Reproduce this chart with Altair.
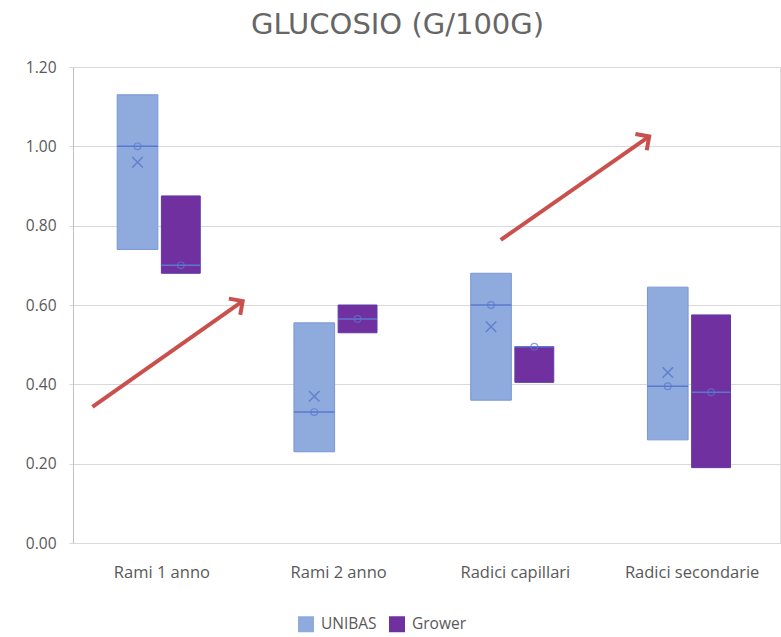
import altair as alt
import pandas as pd

# Glucose content (g/100g) by plant part, two sources
categories = ["Rami 1 anno", "Rami 2 anno", "Radici capillari", "Radici secondarie"]
series = ["UNIBAS", "Grower"]

unibas_min = [0.74, 0.23, 0.36, 0.26]
unibas_max = [1.13, 0.555, 0.68, 0.645]
unibas_median = [1.00, 0.33, 0.60, 0.395]
unibas_mean = [0.96, 0.37, 0.545, 0.43]

grower_min = [0.68, 0.53, 0.405, 0.19]
grower_max = [0.875, 0.60, 0.495, 0.575]
grower_median = [0.70, 0.565, 0.495, 0.38]

# Hand-drawn red arrows (category index, value)
arrow_x = [-0.39, 1.92]
arrow_y = [0.343, 0.764]
arrow_x2 = [0.46, 2.76]
arrow_y2 = [0.61, 1.025]

FILL = {"UNIBAS": "#8FAADC", "Grower": "#7030A0"}
EDGE = {"UNIBAS": "#7A96D6", "Grower": "#5E3AA8"}
OFFSET = {"UNIBAS": (-0.25, -0.02), "Grower": (0.0, 0.22)}

rows = []
for i, cat in enumerate(categories):
    for s, lo, hi, med, mean in (
        ("UNIBAS", unibas_min[i], unibas_max[i], unibas_median[i], unibas_mean[i]),
        ("Grower", grower_min[i], grower_max[i], grower_median[i], None),
    ):
        a, b = OFFSET[s]
        rows.append({
            "category": cat, "series": s, "idx": i,
            "x0": i + a, "x1": i + b, "xc": i + (a + b) / 2,
            "lo": lo, "hi": hi, "median": med, "mean": mean,
        })
df = pd.DataFrame(rows)
arrows = pd.DataFrame({"x": arrow_x, "y": arrow_y, "x2": arrow_x2, "y2": arrow_y2})

label_expr = "[" + ",".join(f"'{c}'" for c in categories) + "][datum.value]"

xscale = alt.Scale(domain=[-0.5, 3.5], nice=False, zero=False)
yscale = alt.Scale(domain=[0, 1.2], nice=False)

x_axis = alt.Axis(values=[0, 1, 2, 3], labelExpr=label_expr, title=None, grid=False,
                  domain=False, ticks=False, labelFontSize=16.5, labelPadding=21,
                  labelColor="#595959", labelFont="Open Sans")
y_axis = alt.Axis(values=[0, 0.2, 0.4, 0.6, 0.8, 1.0, 1.2], format=".2f", title=None,
                  grid=True, gridColor="#D9D9D9", domainColor="#BFBFBF", tickColor="#D9D9D9",
                  tickSize=4, labelFontSize=15.5, labelPadding=13, labelColor="#595959",
                  labelFont="Open Sans")

base = alt.Chart(df)

boxes = base.mark_rect(strokeWidth=1).encode(
    x=alt.X("x0:Q", scale=xscale, axis=x_axis),
    x2="x1:Q",
    y=alt.Y("lo:Q", scale=yscale, axis=y_axis),
    y2="hi:Q",
    color=alt.Color("series:N", scale=alt.Scale(domain=series, range=[FILL[s] for s in series]),
                    legend=alt.Legend(title=None, orient="none", direction="horizontal",
                                      legendX=225, legendY=549, symbolType="square",
                                      symbolSize=256, symbolStrokeWidth=0, labelFontSize=15.5,
                                      labelColor="#595959", labelFont="Open Sans",
                                      columnPadding=12, labelOffset=7)),
    stroke=alt.Stroke("series:N", scale=alt.Scale(domain=series, range=[EDGE[s] for s in series]),
                      legend=None),
)

median_line = base.mark_rule(strokeWidth=1.5, color="#5A78CF").encode(
    x="x0:Q", x2="x1:Q", y="median:Q"
)

median_dot = base.mark_point(shape="circle", size=45, filled=False, strokeWidth=1.2,
                             color="#5A78CF").encode(x="xc:Q", y="median:Q")

mean_x = base.transform_filter("datum.mean != null").mark_point(
    shape="M -1 -1 L 1 1 M -1 1 L 1 -1", size=110, filled=False, strokeWidth=1.5,
    color="#4F6FC8").encode(x="xc:Q", y="mean:Q")

arrow_red = "#C9504C"
arrow_shaft = alt.Chart(arrows).mark_rule(color=arrow_red, strokeWidth=4).encode(
    x="x:Q", y="y:Q", x2="x2:Q", y2="y2:Q"
)
arrow_head = alt.Chart(arrows).mark_point(
    shape="M -0.75 0.75 L 0 0 L 0.75 0.75", size=700, filled=False, strokeWidth=4,
    color=arrow_red, angle=55, strokeJoin="miter", opacity=1).encode(x="x2:Q", y="y2:Q")

chart = alt.layer(boxes, median_line, median_dot, mean_x, arrow_shaft, arrow_head).properties(
    width=707, height=476,
    autosize=alt.AutoSizeParams(type="none"),
    padding={"left": 73, "top": 67, "right": 1, "bottom": 94},
    title=alt.TitleParams("GLUCOSIO (G/100G)", fontSize=29, font="DejaVu Sans", fontWeight="normal",
                          color="#666666", anchor="middle", dx=-29, offset=20),
).configure_view(stroke=None).configure(background="white")

chart.save("out.html", embed_options={"renderer": "svg", "actions": False})
